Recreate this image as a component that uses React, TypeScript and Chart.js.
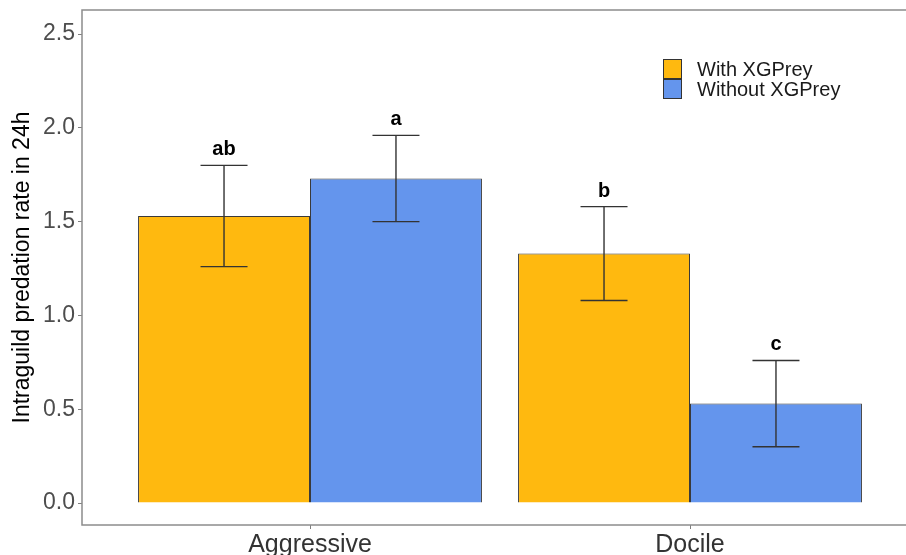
import React, { useEffect, useRef } from "react";
import { Chart, registerables } from "chart.js";

Chart.register(...registerables);

const categories = ["Aggressive", "Docile"];
const seriesNames = ["With XGPrey", "Without XGPrey"];
const withValues = [1.53, 1.33];
const withoutValues = [1.73, 0.53];
const withLower = [1.26, 1.08];
const withUpper = [1.8, 1.58];
const withoutLower = [1.5, 0.3];
const withoutUpper = [1.96, 0.76];
const withLetters = ["ab", "b"];
const withoutLetters = ["a", "c"];
const yTicks = [0, 0.5, 1.0, 1.5, 2.0, 2.5];

const FONT = "Arial, 'Liberation Sans', Helvetica, sans-serif";

const errorBarPlugin = {
  id: "errorBars",
  afterDatasetsDraw(chart: any) {
    const ctx = chart.ctx;
    const yScale = chart.scales.y;
    chart.data.datasets.forEach((ds: any, di: number) => {
      const meta = chart.getDatasetMeta(di);
      meta.data.forEach((bar: any, i: number) => {
        const lo = ds.errLower[i];
        const hi = ds.errUpper[i];
        const x = bar.x;
        const yLo = yScale.getPixelForValue(lo);
        const yHi = yScale.getPixelForValue(hi);
        const half = 23.5;
        ctx.save();
        ctx.strokeStyle = "#333333";
        ctx.lineWidth = 1.4;
        ctx.beginPath();
        ctx.moveTo(x, yLo);
        ctx.lineTo(x, yHi);
        ctx.moveTo(x - half, yLo);
        ctx.lineTo(x + half, yLo);
        ctx.moveTo(x - half, yHi);
        ctx.lineTo(x + half, yHi);
        ctx.stroke();
        ctx.fillStyle = "#000000";
        ctx.font = `bold 20px ${FONT}`;
        ctx.textAlign = "center";
        ctx.textBaseline = "alphabetic";
        ctx.fillText(ds.letters[i], x, yHi - 10);
        ctx.restore();
      });
    });
  },
};

const panelPlugin = {
  id: "panelBorder",
  afterDraw(chart: any) {
    const { ctx, chartArea } = chart;
    ctx.save();
    ctx.strokeStyle = "#8c8c8c";
    ctx.lineWidth = 1.5;
    ctx.strokeRect(chartArea.left, chartArea.top, chartArea.right - chartArea.left, chartArea.bottom - chartArea.top);
    ctx.restore();
  },
};

const legendPlugin = {
  id: "customLegend",
  afterDraw(chart: any) {
    const ctx = chart.ctx;
    const x0 = 663;
    const y0 = 59;
    const box = 20;
    ctx.save();
    chart.data.datasets.forEach((ds: any, i: number) => {
      const y = y0 + i * box;
      ctx.fillStyle = ds.backgroundColor;
      ctx.fillRect(x0, y, 19, box);
      ctx.strokeStyle = "#333333";
      ctx.lineWidth = 1;
      ctx.strokeRect(x0 + 0.5, y + 0.5, 18, box - 1);
      ctx.fillStyle = "#1a1a1a";
      ctx.font = `20px ${FONT}`;
      ctx.textAlign = "left";
      ctx.textBaseline = "middle";
      ctx.fillText(ds.label, 697, y + box / 2 + 1);
    });
    ctx.restore();
  },
};

export default function App() {
  const ref = useRef<HTMLCanvasElement | null>(null);
  useEffect(() => {
    if (!ref.current) return;
    const chart = new Chart(ref.current, {
      type: "bar",
      data: {
        datasets: [
          {
            label: seriesNames[0],
            data: withValues.map((v, i) => ({ x: i + 1, y: v })),
            backgroundColor: "#FFB90F",
            borderColor: "#3a3a3a",
            borderWidth: 1,
            errLower: withLower,
            errUpper: withUpper,
            letters: withLetters,
          } as any,
          {
            label: seriesNames[1],
            data: withoutValues.map((v, i) => ({ x: i + 1, y: v })),
            backgroundColor: "#6495ED",
            borderColor: "#3a3a3a",
            borderWidth: 1,
            errLower: withoutLower,
            errUpper: withoutUpper,
            letters: withoutLetters,
          } as any,
        ],
      },
      options: {
        animation: false,
        responsive: false,
        devicePixelRatio: 1,
        layout: { padding: { top: 10, right: 2, left: 0, bottom: 0 } },
        datasets: { bar: { categoryPercentage: 0.905, barPercentage: 1.0 } },
        plugins: { legend: { display: false }, tooltip: { enabled: false } },
        scales: {
          x: {
            type: "linear",
            min: 0.4,
            max: 2.6,
            offset: false,
            afterBuildTicks: (s: any) => {
              s.ticks = categories.map((_, i) => ({ value: i + 1 }));
            },
            afterFit: (s: any) => {
              s.height = 30;
              s.paddingLeft = 0;
              s.paddingRight = 0;
            },
            grid: { display: true, offset: false, drawOnChartArea: false, drawTicks: true, tickLength: 4, color: "#7f7f7f", tickColor: "#7f7f7f" },
            border: { display: false },
            ticks: {
              padding: 1,
              color: "#333333",
              font: { family: FONT, size: 25 },
              maxRotation: 0,
              callback: (v: any) => categories[Math.round(Number(v)) - 1] ?? "",
            },
          },
          y: {
            type: "linear",
            min: -0.117,
            max: 2.628,
            afterBuildTicks: (s: any) => {
              s.ticks = yTicks.map((v) => ({ value: v }));
            },
            afterFit: (s: any) => {
              s.width = 82;
              s.paddingTop = 0;
              s.paddingBottom = 0;
            },
            grid: { display: true, offset: false, drawOnChartArea: false, drawTicks: true, tickLength: 4, color: "#7f7f7f", tickColor: "#7f7f7f" },
            border: { display: false },
            ticks: {
              padding: 3,
              color: "#4d4d4d",
              font: { family: FONT, size: 23 },
              callback: (v: any) => Number(v).toFixed(1),
            },
            title: {
              display: true,
              text: "Intraguild predation rate in 24h",
              color: "#000000",
              font: { family: FONT, size: 23 },
              padding: { top: 9, bottom: 0 },
            },
          },
        },
      },
      plugins: [errorBarPlugin, panelPlugin, legendPlugin],
    } as any);
    return () => chart.destroy();
  }, []);
  return (
    <div style={{ position: "fixed", left: 0, top: 0, width: 906, height: 555, overflow: "hidden", background: "#ffffff" }}>
      <canvas ref={ref} width={920} height={555} style={{ display: "block" }} />
    </div>
  );
}
